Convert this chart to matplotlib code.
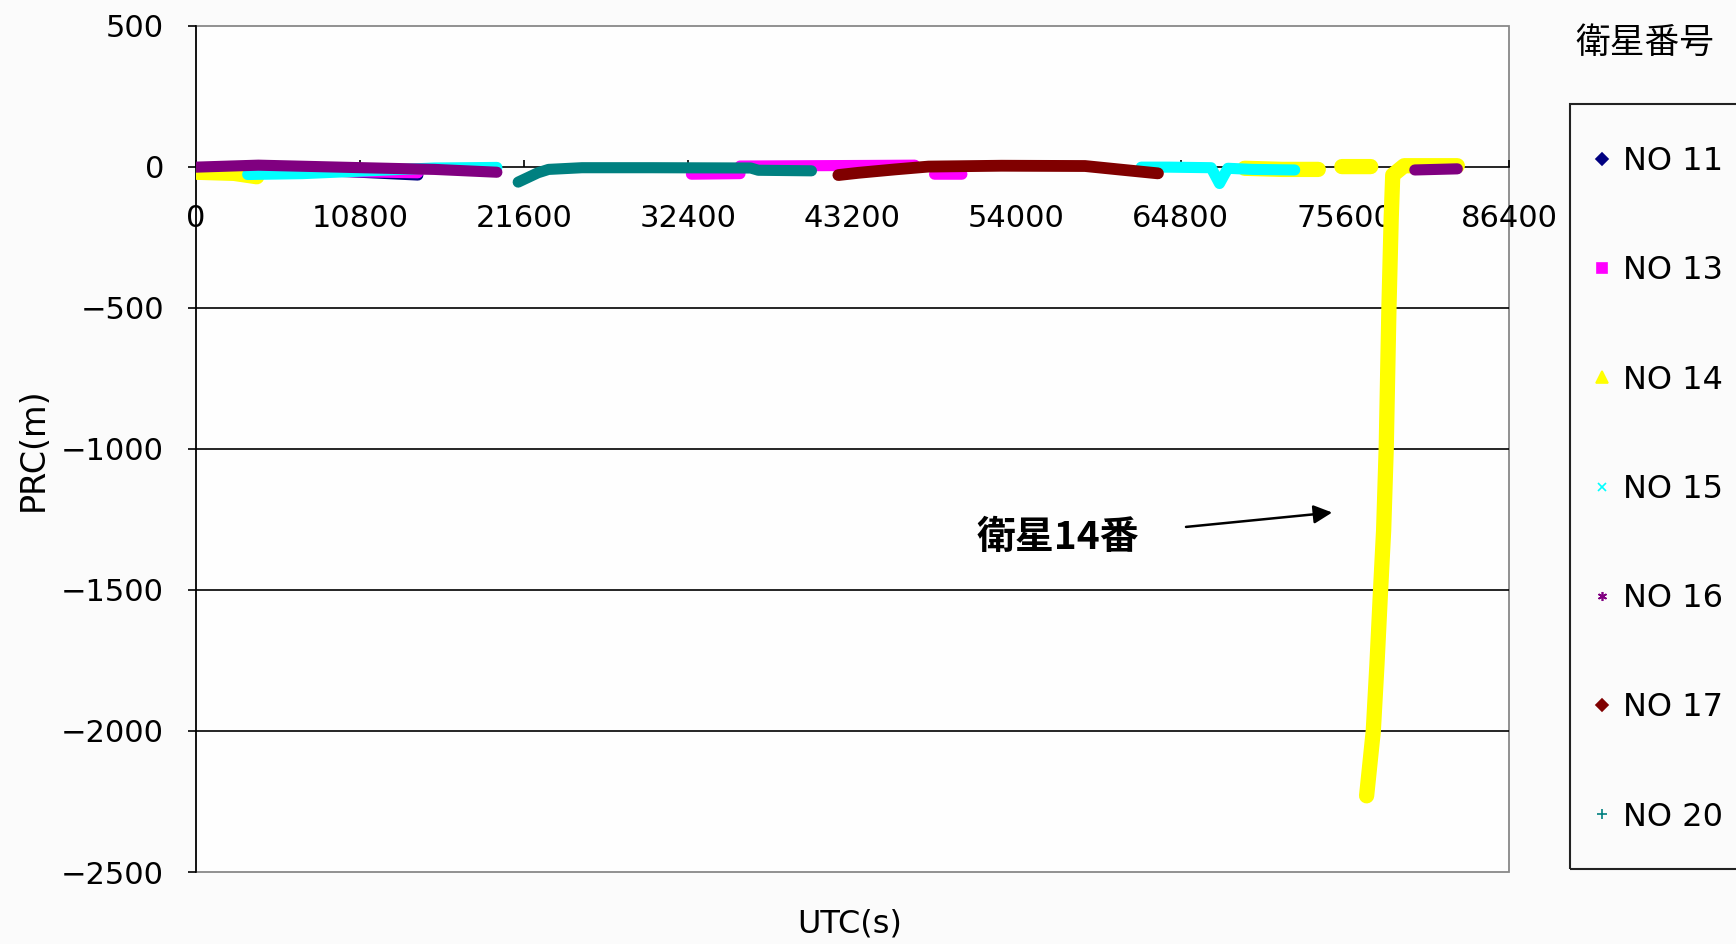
import numpy as np
import matplotlib
matplotlib.use("Agg")
import matplotlib.pyplot as plt
from matplotlib.lines import Line2D
from matplotlib.patches import Rectangle

plt.rcParams['font.family'] = ['DejaVu Sans', 'Noto Sans CJK JP']
nan = np.nan

# ---- data (UTC seconds, PRC metres); NaN separates passes ----
sat_labels = ["NO 11", "NO 13", "NO 14", "NO 15", "NO 16", "NO 17", "NO 20"]

sat11_x = [6000, 10000, 14600]
sat11_y = [-10, -18, -30]

sat13_x = [3000, 8000, 14600, nan, 32600, 35800, nan, 35800, 40000, 44000, 47300, nan, 48600, 50400]
sat13_y = [-12, -16, -22, nan, -27, -25, nan, 2, 3, 4, 5, nan, -27, -27]

sat14_x = [0, 2500, 4000, nan, 69000, 71500, 73850, nan, 75400, 77300, nan,
           77030, 77470, 77710, 77950, 78150, 78320, 78500, 78650, 78750, 79500, 83000]
sat14_y = [-20, -24, -36, nan, -6, -10, -10, nan, 0, 0, nan,
           -2230, -2000, -1765, -1500, -1290, -1000, -500, -180, -30, 3, 3]

sat15_x = [3400, 7000, 10000, 15700, 19800, nan, 62200, 64000, 66800, 67350, 67900, 69500, 72300]
sat15_y = [-28, -25, -18, -5, -3, nan, -2, -2, -4, -60, -6, -10, -12]

sat16_x = [0, 4100, 10200, 15700, 19800, nan, 80200, 81600, 83000]
sat16_y = [-2, 5, -3, -10, -20, nan, -12, -10, -8]

sat17_x = [42270, 43600, 46000, 48200, 53000, 58500, 60700, 63300]
sat17_y = [-30, -22, -10, 0, 3, 2, -10, -24]

sat20_x = [21200, 22500, 23200, 25400, 30000, 36500, 37000, 40500]
sat20_y = [-55, -22, -10, -4, -4, -5, -13, -15]

x_ticks = [0, 10800, 21600, 32400, 43200, 54000, 64800, 75600, 86400]
y_ticks = [500, 0, -500, -1000, -1500, -2000, -2500]
grid_levels = [-500, -1000, -1500, -2000]

series = [
    (sat11_x, sat11_y, "#000080", "D", 8.0, 6.0),
    (sat13_x, sat13_y, "#FF00FF", "s", 8.0, 6.5),
    (sat14_x, sat14_y, "#FFFF00", "^", 11.0, 8.0),
    (sat15_x, sat15_y, "#00FFFF", "x", 8.0, 6.0),
    (sat16_x, sat16_y, "#800080", (6, 2, 0), 8.0, 6.5),
    (sat17_x, sat17_y, "#800000", "D", 8.5, 6.0),
    (sat20_x, sat20_y, "#008080", "+", 8.0, 6.5),
]

W, H = 1736, 944
fig = plt.figure(figsize=(W / 100, H / 100), dpi=100, facecolor="#FBFBFB")
ax = fig.add_axes([196 / W, 1 - 872 / H, 1313 / W, 846.5 / H])
ax.set_facecolor("#FEFEFE")
ax.set_xlim(0, 86400)
ax.set_ylim(-2500, 500)

for lvl in grid_levels:
    ax.axhline(lvl, color="black", lw=1.2, zorder=1)

handles = []
for (xs, ys, col, mk, lw, ms), lab in zip(series, sat_labels):
    ax.plot(xs, ys, color=col, lw=lw, solid_capstyle="round",
            solid_joinstyle="round", zorder=3)
    handles.append(Line2D([], [], color=col, marker=mk, linestyle="None",
                          markersize=ms, markeredgewidth=1.2))

# axes styling (Excel-like)
for s in ["top", "right"]:
    ax.spines[s].set_visible(False)
ax.spines["left"].set_color("black")
ax.spines["left"].set_linewidth(1.2)
ax.spines["bottom"].set_position(("data", 0))
ax.spines["bottom"].set_color("black")
ax.spines["bottom"].set_linewidth(1.2)
ax.add_patch(Rectangle((0, 0), 1, 1, transform=ax.transAxes, fill=False,
                       edgecolor="#888888", lw=1.3, zorder=0.8, clip_on=False))

ax.set_xticks(x_ticks)
ax.set_xticklabels([str(v) for v in x_ticks])
ax.set_yticks(y_ticks)
ax.set_yticklabels(["\u2212" + str(-v) if v < 0 else str(v) for v in y_ticks])
ax.tick_params(axis="x", direction="in", length=5, width=1.2, pad=27,
               labelsize=22, colors="black")
ax.tick_params(axis="y", direction="out", length=6, width=1.2, pad=17,
               labelsize=22, colors="black")

fig.text(33 / W, 1 - 449 / H, "PRC(m)", rotation=90, ha="center", va="center",
         fontsize=24)
fig.text(850 / W, 1 - 924 / H, "UTC(s)", ha="center", va="center", fontsize=23)

# annotation
ax.annotate("", xy=(74946, -1225), xytext=(64964, -1278),
            arrowprops=dict(arrowstyle="-|>", color="black", lw=1.8,
                            mutation_scale=28), zorder=4)
ax.text(56700, -1313, "衛星14番", ha="center", va="center", fontsize=28,
        fontweight="bold", family=["Noto Sans CJK JP", "DejaVu Sans"], zorder=4)

# legend
fig.text(1645 / W, 1 - 43 / H, "衛星番号", ha="center", va="center", fontsize=25,
         family=["Noto Sans CJK JP", "DejaVu Sans"])
fig.patches.append(Rectangle((1570 / W, 1 - 869 / H), 0.2, (869 - 104) / H,
                             transform=fig.transFigure, fill=False,
                             edgecolor="#222222", lw=1.5))
fig.legend(handles, sat_labels, loc="upper left",
           bbox_to_anchor=(1586 / W, 1 - 146 / H), frameon=False,
           fontsize=23, handlelength=1.0, handletextpad=0.15,
           labelspacing=2.45, borderpad=0, borderaxespad=0)

fig.savefig("out.png", dpi=100, facecolor=fig.get_facecolor())
